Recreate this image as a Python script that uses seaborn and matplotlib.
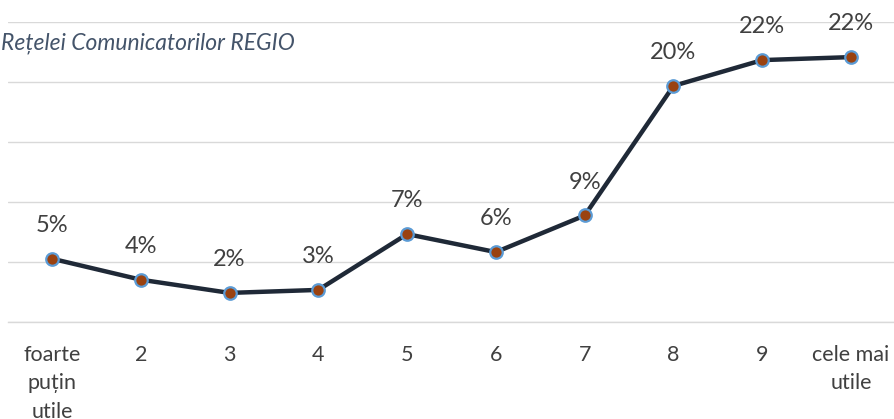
import matplotlib
matplotlib.use("Agg")
import matplotlib.pyplot as plt
import seaborn as sns
import pandas as pd

categorii = ["foarte\npuțin\nutile", "2", "3", "4", "5", "6", "7", "8", "9", "cele mai\nutile"]
procente = [5.3, 3.55, 2.45, 2.7, 7.35, 5.85, 8.9, 19.7, 21.85, 22.1]
titlu = "Rețelei Comunicatorilor REGIO"

sns.set_style("white")
plt.rcParams["font.family"] = ["Lato", "DejaVu Sans"]

df = pd.DataFrame({"categorie": categorii, "procent": procente})

fig = plt.figure(figsize=(8.94, 4.19), dpi=100)
ax = fig.add_axes([7.6 / 894, 96.7 / 419, 887.8 / 894, 300 / 419])

sns.lineplot(data=df, x="categorie", y="procent", ax=ax, color="#1f2937",
             linewidth=3.2, marker="o", markersize=9,
             markerfacecolor="#9a4210", markeredgecolor="#5b9bd5",
             markeredgewidth=1.6, zorder=3)

for i, v in enumerate(df["procent"]):
    ax.annotate(f"{v:.0f}%", (i, v), xytext=(0, 24), textcoords="offset points",
                ha="center", va="center", fontsize=17, color="#404040")

ax.set_xlim(-0.5, 9.5)
ax.set_ylim(0, 25)
ax.set_yticks([0, 5, 10, 15, 20, 25])
ax.yaxis.grid(True, color="#d9d9d9", linewidth=1)
ax.set_yticklabels([])
ax.tick_params(axis="y", length=0)
ax.tick_params(axis="x", length=0, pad=16, labelsize=15.5, labelcolor="#404040")
for lbl in ax.get_xticklabels():
    lbl.set_linespacing(1.55)
    lbl.set_verticalalignment("top")
ax.set_xlabel("")
ax.set_ylabel("")
for s in ["top", "left", "right"]:
    ax.spines[s].set_visible(False)
ax.spines["bottom"].set_color("#d9d9d9")
ax.spines["bottom"].set_linewidth(1)

fig.text(1 / 894, 1 - 43 / 419, titlu, ha="left", va="center",
         fontsize=16.5, style="italic", color="#44546a")

fig.savefig("out.png", dpi=100)
